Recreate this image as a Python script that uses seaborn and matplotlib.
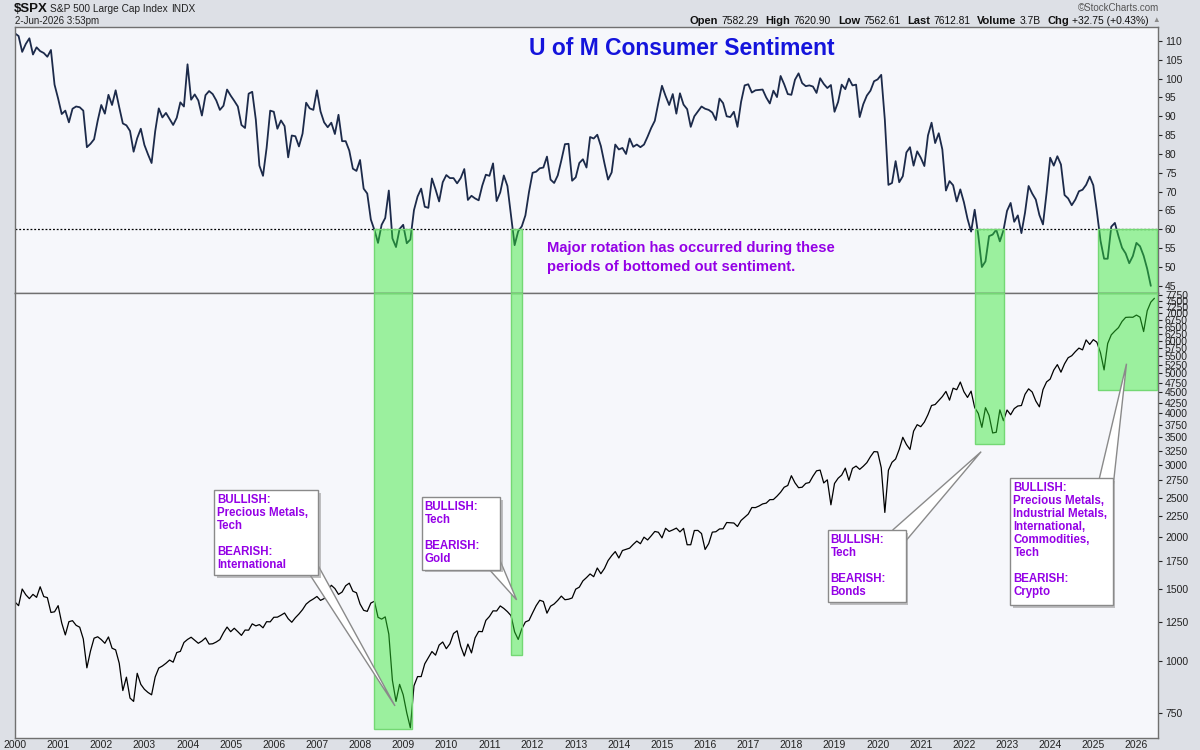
"""U of M Consumer Sentiment above the S&P 500, StockCharts style."""

import matplotlib

matplotlib.use("Agg")
import matplotlib.patheffects as pe
import matplotlib.pyplot as plt
import pandas as pd
import seaborn as sns
from matplotlib.patches import Polygon, Rectangle
from matplotlib.ticker import NullLocator

W, H = 1200, 750

# monthly values from Jan 2000
SENTIMENT = [
    112.0, 111.3, 107.1, 109.2, 110.7, 106.4, 108.3, 107.3, 106.8, 105.8, 107.6, 98.4,
    94.7, 90.6, 91.5, 88.4, 92.0, 92.6, 92.4, 91.5, 81.8, 82.7, 83.9, 88.8,
    93.0, 90.7, 95.7, 93.0, 96.9, 92.4, 88.1, 87.6, 86.1, 80.6, 84.2, 86.7,
    82.4, 79.9, 77.6, 86.0, 92.1, 89.7, 90.9, 89.3, 87.7, 89.6, 93.7, 92.6,
    103.8, 94.4, 95.8, 94.2, 90.2, 95.6, 96.7, 95.9, 94.2, 91.7, 92.8, 97.1,
    95.5, 94.1, 92.6, 87.7, 86.9, 96.0, 96.5, 89.1, 76.9, 74.2, 81.6, 91.5,
    91.2, 86.7, 88.9, 87.4, 79.1, 84.9, 84.7, 82.0, 85.4, 93.6, 92.1, 91.7,
    96.9, 91.3, 88.4, 87.1, 88.3, 85.3, 90.4, 83.4, 83.4, 80.9, 76.1, 75.5,
    78.4, 70.8, 69.5, 62.6, 59.8, 56.4, 61.2, 63.0, 70.3, 57.6, 55.3, 60.1,
    61.2, 56.3, 57.3, 65.1, 68.7, 70.8, 66.0, 65.7, 73.5, 70.6, 67.4, 72.5,
    74.4, 73.6, 73.6, 72.2, 73.6, 76.0, 67.8, 68.9, 68.2, 67.7, 71.6, 74.5,
    74.2, 77.5, 67.5, 69.8, 74.3, 71.5, 63.7, 55.8, 59.5, 60.8, 63.7, 69.9,
    75.0, 75.3, 76.2, 76.4, 79.3, 73.2, 72.3, 74.3, 78.3, 82.6, 82.7, 72.9,
    73.8, 77.6, 78.6, 76.4, 84.5, 84.1, 85.1, 82.1, 77.5, 73.2, 75.1, 82.5,
    81.2, 81.6, 80.0, 84.1, 81.9, 82.5, 81.8, 82.5, 84.6, 86.9, 88.8, 93.6,
    98.1, 95.4, 93.0, 95.9, 90.7, 96.1, 93.1, 91.9, 87.2, 90.0, 91.3, 92.6,
    92.0, 91.7, 91.0, 89.0, 94.7, 93.5, 90.0, 89.8, 91.2, 87.2, 93.8, 98.2,
    98.5, 96.3, 96.9, 97.0, 97.1, 95.0, 93.4, 96.8, 95.1, 100.7, 98.5, 95.9,
    95.7, 99.7, 101.4, 98.8, 98.0, 98.2, 97.9, 96.2, 100.1, 98.6, 97.5, 98.3,
    91.2, 93.8, 98.4, 97.2, 100.0, 98.2, 98.4, 89.8, 93.2, 95.5, 96.8, 99.3,
    99.8, 101.0, 89.1, 71.8, 72.3, 78.1, 72.5, 74.1, 80.4, 81.8, 76.9, 80.7,
    79.0, 76.8, 84.9, 88.3, 82.9, 85.5, 81.2, 70.3, 72.8, 71.7, 67.4, 70.6,
    67.2, 62.8, 59.4, 65.2, 58.4, 50.0, 51.5, 58.2, 58.6, 59.9, 56.8, 59.7,
    64.9, 67.0, 62.0, 63.7, 59.0, 64.4, 71.5, 69.5, 67.9, 63.8, 61.3, 69.7,
    79.0, 76.9, 79.4, 77.2, 69.1, 68.2, 66.4, 67.9, 70.1, 70.5, 71.8, 74.0,
    71.7, 64.7, 57.0, 52.2, 52.2, 60.7, 61.7, 58.2, 55.1, 53.6, 51.0, 52.9,
    56.4, 55.5, 53.0, 49.5, 45.0,
]

SPX = [
    1394, 1366, 1499, 1452, 1421, 1455, 1431, 1518, 1437, 1429, 1315, 1320,
    1366, 1240, 1160, 1249, 1256, 1224, 1211, 1134, 965, 1060, 1139, 1148,
    1130, 1107, 1147, 1077, 1067, 990, 850, 916, 815, 800, 936, 880,
    856, 841, 830, 917, 964, 975, 990, 1008, 996, 1051, 1058, 1112,
    1131, 1145, 1126, 1107, 1121, 1141, 1102, 1104, 1115, 1130, 1174, 1212,
    1181, 1204, 1181, 1157, 1192, 1191, 1234, 1220, 1229, 1207, 1249, 1248,
    1280, 1281, 1295, 1311, 1270, 1245, 1277, 1304, 1336, 1378, 1401, 1418,
    1438, 1407, 1421, 1482, 1531, 1503, 1455, 1474, 1527, 1549, 1481, 1468,
    1379, 1331, 1323, 1386, 1400, 1280, 1267, 1283, 1165, 900, 800, 880,
    830, 750, 690, 873, 919, 919, 987, 1021, 1057, 1036, 1096, 1115,
    1074, 1104, 1169, 1187, 1089, 1031, 1102, 1049, 1141, 1183, 1181, 1258,
    1286, 1327, 1326, 1364, 1345, 1321, 1292, 1180, 1131, 1200, 1247, 1258,
    1312, 1366, 1408, 1398, 1310, 1362, 1379, 1407, 1441, 1412, 1416, 1426,
    1498, 1515, 1569, 1598, 1631, 1606, 1686, 1633, 1682, 1757, 1806, 1848,
    1783, 1859, 1872, 1884, 1924, 1960, 1931, 2003, 1972, 2018, 2068, 2059,
    1995, 2105, 2068, 2086, 2107, 2063, 2104, 1920, 1920, 2079, 2080, 2044,
    1870, 1932, 2060, 2065, 2097, 2099, 2174, 2171, 2168, 2126, 2199, 2239,
    2279, 2364, 2363, 2384, 2412, 2423, 2470, 2472, 2519, 2575, 2648, 2674,
    2824, 2714, 2641, 2648, 2705, 2718, 2816, 2902, 2914, 2712, 2760, 2400,
    2704, 2784, 2834, 2946, 2752, 2942, 2980, 2926, 2977, 3038, 3141, 3231,
    3226, 2954, 2300, 2912, 3044, 3100, 3271, 3500, 3363, 3270, 3622, 3756,
    3714, 3811, 3973, 4181, 4204, 4298, 4395, 4523, 4308, 4605, 4567, 4766,
    4516, 4374, 4530, 4132, 4000, 3700, 4130, 3955, 3586, 3600, 4080, 3840,
    4077, 3970, 4109, 4169, 4180, 4450, 4589, 4508, 4288, 4150, 4568, 4770,
    4846, 5096, 5254, 5036, 5278, 5460, 5522, 5648, 5762, 5705, 6032, 5882,
    6041, 5955, 5612, 5100, 5912, 6205, 6339, 6460, 6688, 6840, 6849, 6845,
    6930, 6850, 6320, 7100, 7450, 7612,
]

YEARS = list(range(2000, 2027))
SENT_TICKS = list(range(45, 111, 5))
SPX_TICKS = list(range(750, 7751, 250))

# bottomed-out sentiment zones
ZONE_START = [2008.32, 2011.49, 2022.25, 2025.12]
ZONE_END = [2009.20, 2011.75, 2022.94, 2026.47]
ZONE_SPX_LOW = [686, 1037, 3372, 4558]
SENT_LINE = 60

NOTES = [
    "BULLISH:\nPrecious Metals,\nTech\n\nBEARISH:\nInternational",
    "BULLISH:\nTech\n\nBEARISH:\nGold",
    "BULLISH:\nTech\n\nBEARISH:\nBonds",
    "BULLISH:\nPrecious Metals,\nIndustrial Metals,\nInternational,\n"
    "Commodities,\nTech\n\nBEARISH:\nCrypto",
]
NOTE_X0 = [2004.62, 2009.43, 2018.84, 2023.08]
NOTE_X1 = [2007.02, 2011.24, 2020.65, 2025.45]
NOTE_TOP = [2607, 2505, 2085, 2781]
NOTE_BOTTOM = [1622, 1670, 1396, 1373]
NOTE_BASE = [
    ((2006.84, 1622), (2007.02, 1715)),
    ((2011.00, 1670), (2011.24, 1764)),
    ((2020.35, 2085), (2020.65, 1960)),
    ((2025.14, 2781), (2025.45, 2607)),
]
NOTE_TIP = [(2008.81, 780), (2011.63, 1411), (2022.40, 3230), (2025.77, 5281)]

HEADER_STATS = [
    ("Open", "7582.29"), ("High", "7620.90"), ("Low", "7562.61"),
    ("Last", "7612.81"), ("Volume", "3.7B"), ("Chg", "+32.75 (+0.43%)"),
]

PURPLE = "#9400e6"
NAVY = "#1c2a4a"
GREEN_FILL = (0.18, 0.91, 0.18, 0.45)
GREEN_EDGE = "#74d874"


def px(x, y):
    return x / W, 1 - y / H


def main() -> None:
    sns.set_theme(style="white")
    plt.rcParams["font.family"] = ["Liberation Sans", "DejaVu Sans"]

    sent_df = pd.DataFrame(
        {"t": [2000 + i / 12 for i in range(len(SENTIMENT))], "value": SENTIMENT}
    )
    spx_df = pd.DataFrame({"t": [2000 + i / 12 for i in range(len(SPX))], "value": SPX})

    fig = plt.figure(figsize=(W / 100, H / 100), dpi=100, facecolor="#dde0e6")
    left, right = 15, 1158
    ax1 = fig.add_axes([left / W, 1 - 293 / H, (right - left) / W, (293 - 27) / H])
    ax2 = fig.add_axes([left / W, 1 - 738 / H, (right - left) / W, (738 - 293) / H])

    for ax in (ax1, ax2):
        ax.set_facecolor("#f6f7fb")
        ax.set_xlim(2000, 2026.5)
        for sp in ax.spines.values():
            sp.set_color("#707070")
            sp.set_linewidth(1)
        ax.yaxis.tick_right()
        ax.tick_params(axis="y", direction="out", length=3, width=0.8, pad=2,
                       labelsize=7.5, colors="#222222")

    # top panel: sentiment
    sns.lineplot(data=sent_df, x="t", y="value", ax=ax1, color=NAVY,
                 linewidth=1.3, estimator=None, zorder=2)
    ax1.set_ylim(43.1, 113.7)
    ax1.set_yticks(SENT_TICKS)
    ax1.set_xticks([])
    ax1.axhline(SENT_LINE, color="black", linestyle=(0, (1.5, 1.5)), linewidth=0.9,
                zorder=1)
    ax1.set_xlabel("")
    ax1.set_ylabel("")

    # bottom panel: S&P 500 (log)
    sns.lineplot(data=spx_df, x="t", y="value", ax=ax2, color="black",
                 linewidth=0.9, estimator=None, zorder=2)
    ax2.set_yscale("log")
    ax2.set_ylim(652, 7840)
    ax2.set_yticks(SPX_TICKS, labels=[str(v) for v in SPX_TICKS])
    ax2.yaxis.set_minor_locator(NullLocator())
    ax2.set_xticks(YEARS, labels=[str(y) for y in YEARS])
    ax2.tick_params(axis="x", length=0, pad=1.5, labelsize=7.5, colors="#222222")
    ax2.set_xlabel("")
    ax2.set_ylabel("")

    # green zones spanning both panels
    top_lo = ax1.get_ylim()[0]
    spx_hi = ax2.get_ylim()[1]
    for x0, x1, low in zip(ZONE_START, ZONE_END, ZONE_SPX_LOW):
        ax1.add_patch(Rectangle((x0, top_lo), x1 - x0, SENT_LINE - top_lo,
                                facecolor=GREEN_FILL, edgecolor=GREEN_EDGE,
                                linewidth=1, zorder=3))
        ax2.add_patch(Rectangle((x0, low), x1 - x0, spx_hi - low,
                                facecolor=GREEN_FILL, edgecolor=GREEN_EDGE,
                                linewidth=1, zorder=3))

    # callout boxes
    shadow = [pe.SimplePatchShadow(offset=(2, -2), shadow_rgbFace="#999999", alpha=0.6),
              pe.Normal()]
    for text, x0, x1, top, bot, base, tip in zip(
        NOTES, NOTE_X0, NOTE_X1, NOTE_TOP, NOTE_BOTTOM, NOTE_BASE, NOTE_TIP
    ):
        ax2.add_patch(Polygon([base[0], tip, base[1]], closed=True, facecolor="white",
                              edgecolor="#8a8a8a", linewidth=1, zorder=5))
        ax2.add_patch(Rectangle((x0, bot), x1 - x0, top - bot, facecolor="white",
                                edgecolor="#8a8a8a", linewidth=1, zorder=5.5,
                                path_effects=shadow))
        ax2.annotate(text, xy=(x0, top), xytext=(3, -4), textcoords="offset pixels",
                     ha="left", va="top", fontsize=8.3, fontweight="bold",
                     color=PURPLE, linespacing=1.1, zorder=6)

    ax1.text(0.5836, 0.921, "U of M Consumer Sentiment", transform=ax1.transAxes,
             ha="center", va="center", fontsize=16.5, fontweight="bold",
             color="#1414dc", zorder=6)
    ax1.text(2012.33, 57.0,
             "Major rotation has occurred during these\nperiods of bottomed out sentiment.",
             ha="left", va="top", fontsize=10.6, fontweight="bold", color=PURPLE,
             linespacing=1.5, zorder=6)

    # header strip
    fig.text(*px(14, 9), "$SPX", ha="left", va="center", fontsize=9.5,
             fontweight="bold", color="#111111")
    fig.text(*px(50, 9), "S&P 500 Large Cap Index", ha="left", va="center",
             fontsize=7.3, color="#222222")
    fig.text(*px(171, 9), "INDX", ha="left", va="center", fontsize=7.3, color="#222222")
    fig.text(*px(15, 21), "2-Jun-2026 3:53pm", ha="left", va="center", fontsize=7,
             color="#222222")
    fig.text(*px(1159, 8), "\u00a9StockCharts.com", ha="right", va="center",
             fontsize=7, color="#555555")
    fig.text(*px(1152, 21), "\u25b2", ha="left", va="center", fontsize=5.5,
             color="#8a8a8a")

    # stats laid out right to left so labels and values never collide
    renderer = fig.canvas.get_renderer()
    x = 1149
    for label, value in reversed(HEADER_STATS):
        t = fig.text(*px(x, 21), value, ha="right", va="center", fontsize=7.4,
                     color="#111111")
        x -= t.get_window_extent(renderer).width + 3
        t = fig.text(*px(x, 21), label, ha="right", va="center", fontsize=8,
                     fontweight="bold", color="#111111")
        x -= t.get_window_extent(renderer).width + 7

    fig.savefig("out.png", dpi=100, facecolor=fig.get_facecolor())
    plt.close(fig)


if __name__ == "__main__":
    main()
